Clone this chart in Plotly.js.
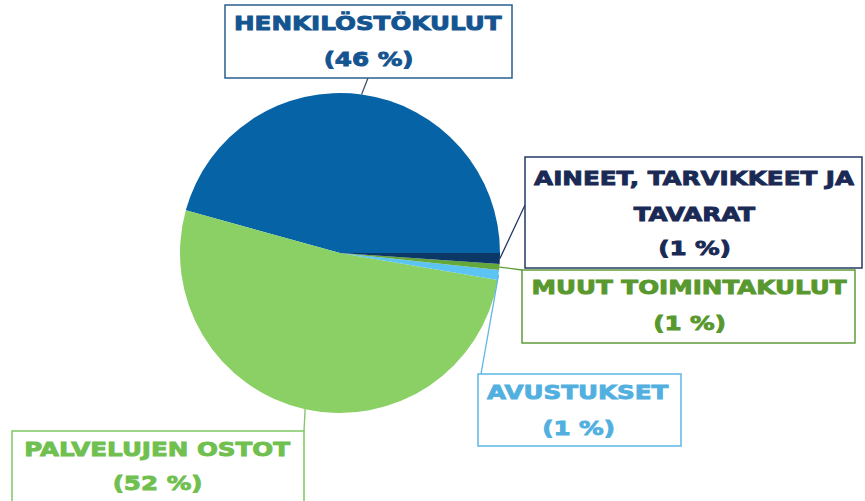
<!DOCTYPE html>
<html><head><meta charset="utf-8">
<script src="https://cdn.plot.ly/plotly-3.0.1.min.js"></script>
<style>html,body{margin:0;padding:0;background:#fff}#chart{width:865px;height:501px}</style>
</head><body><div id="chart"></div>
<script>
// ---- data ----
const categories = ['HENKILÖSTÖKULUT', 'PALVELUJEN OSTOT', 'AVUSTUKSET', 'MUUT TOIMINTAKULUT', 'AINEET, TARVIKKEET JA TAVARAT'];
const labelLines = [['HENKILÖSTÖKULUT'], ['PALVELUJEN OSTOT'], ['AVUSTUKSET'], ['MUUT TOIMINTAKULUT'], ['AINEET, TARVIKKEET JA', 'TAVARAT']];
const shares = [45.7, 51.6, 1.0, 0.6, 1.1];

// ---- styles ----
const sliceColors = ['#0563A6', '#8AD065', '#5CC4F2', '#64A83C', '#0C3868'];
const textColors  = ['#145490', '#70C050', '#52B0E0', '#58982E', '#1A2A55'];
const boxColors   = ['#2A5F8E', '#7DC664', '#5DB6E6', '#5E9C3A', '#233A66'];
const lineColors  = ['#44546A', '#7DC664', '#5DB6E6', '#5E9C3A', '#1F3864'];
// label boxes in pixels: [x0, x1, y0, y1], text centre x, text line y's, leader end point
const boxes = [
  {b: [225, 512, 5, 78],   cx: 368, ly: [23, 59],           end: [368, 78]},
  {b: [12, 304, 431, 515], cx: 157, ly: [449, 483],         end: [304, 431]},
  {b: [478, 681, 374, 446], cx: 578, ly: [392, 428],        end: [481, 374]},
  {b: [522, 855, 270, 343], cx: 689, ly: [287, 323],        end: [522, 270]},
  {b: [525, 862, 157, 268], cx: 694, ly: [178, 214, 248],   end: [525, 205]}
];

const W = 865, H = 501;
const cx = 340, cy = 253, R = 160;
const px = x => x / W, py = y => 1 - y / H;

const total = shares.reduce((a, b) => a + b, 0);
const shapes = [], annotations = [];
let cum = 0;
shares.forEach((v, i) => {
  const mid = (cum + v / 2) / total * 2 * Math.PI;
  cum += v;
  const ex = cx + R * Math.cos(mid), ey = cy - R * Math.sin(mid);
  const bx = boxes[i];
  shapes.push({type: 'line', xref: 'paper', yref: 'paper', x0: px(ex), y0: py(ey), x1: px(bx.end[0]), y1: py(bx.end[1]),
               line: {color: lineColors[i], width: 1.3}});
  shapes.push({type: 'rect', xref: 'paper', yref: 'paper', x0: px(bx.b[0]), x1: px(bx.b[1]), y0: py(bx.b[3]), y1: py(bx.b[2]),
               fillcolor: '#ffffff', line: {color: boxColors[i], width: 1.5}});
  const lines = labelLines[i].concat(['(' + Math.round(v) + ' %)']);
  lines.forEach((t, k) => {
    annotations.push({xref: 'paper', yref: 'paper', x: px(bx.cx), y: py(bx.ly[k]), xanchor: 'center', yanchor: 'middle',
      text: '<b>' + t + '</b>', showarrow: false,
      font: {family: 'DejaVu Sans', size: 20, color: textColors[i]}});
  });
});

// first slice starts at 3 o'clock and runs counter-clockwise
const rotation = 90 - 360 * shares[0] / total;

const trace = {
  type: 'pie', labels: categories, values: shares, sort: false,
  direction: 'counterclockwise', rotation: rotation, textinfo: 'none', hoverinfo: 'label+percent',
  marker: {colors: sliceColors, line: {width: 0}},
  domain: {x: [px(cx - R), px(cx + R)], y: [py(cy + R), py(cy - R)]}
};

Plotly.newPlot('chart', [trace], {
  width: W, height: H, margin: {l: 0, r: 0, t: 0, b: 0},
  paper_bgcolor: '#ffffff', showlegend: false, shapes: shapes, annotations: annotations
}, {staticPlot: true}).then(() => {
  document.querySelectorAll('.annotation-text').forEach(t => {
    const w = t.getComputedTextLength();
    t.setAttribute('textLength', (w * 1.23).toFixed(1));
    t.setAttribute('lengthAdjust', 'spacingAndGlyphs');
    const f = getComputedStyle(t).fill;
    t.style.stroke = f;
    t.style.strokeWidth = '0.9px';
  });
});
</script>
</body></html>
